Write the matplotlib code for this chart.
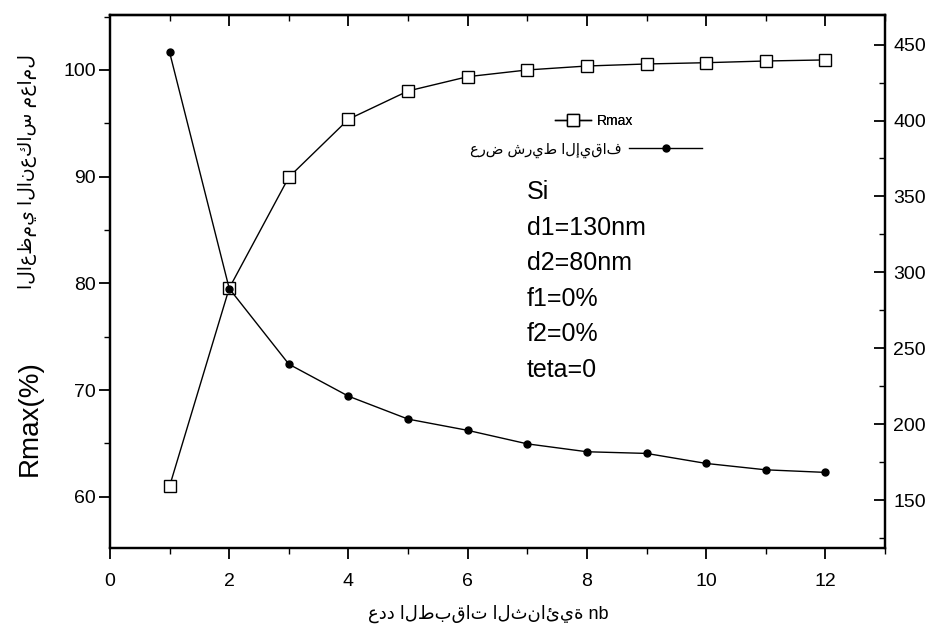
import matplotlib
matplotlib.use("Agg")
import matplotlib.pyplot as plt
from matplotlib.ticker import MultipleLocator

# Number of bilayers
nb = [1, 2, 3, 4, 5, 6, 7, 8, 9, 10, 11, 12]
# Maximum reflectance (%)
rmax = [61.0, 79.55, 89.95, 95.38, 98.03, 99.37, 100.0, 100.37, 100.56, 100.68, 100.84, 100.94]
# Stop-band width (nm)
band_width = [444.9, 289.3, 239.5, 218.4, 203.3, 195.9, 187.0, 181.8, 180.7, 174.1, 169.9, 168.2]

rmax_label = "Rmax"
band_label = "عرض شريط الإيقاف"
x_label = "عدد الطبقات الثنائية nb"
y_label_ar = "الاعظمي الانعكاس معامل"
y_label_en = "Rmax(%)"
params = ["Si", "d1=130nm", "d2=80nm", "f1=0%", "f2=0%", "teta=0"]

FAM = ["Liberation Sans", "DejaVu Sans"]
plt.rcParams["font.family"] = FAM

W, H = 936, 629
fig = plt.figure(figsize=(W / 100, H / 100), dpi=100)
L, R, T, B = 110, 885, 15, 548
ax = fig.add_axes([L / W, 1 - B / H, (R - L) / W, (B - T) / H])

ln1, = ax.plot(nb, rmax, color="black", lw=1.0, marker="s", ms=9,
               mfc="white", mec="black", mew=1.0, label=rmax_label)
ax.set_xlim(0, 13)
ax.set_ylim(55.2, 105.15)

ax2 = ax.twinx()
ln2, = ax2.plot(nb, band_width, color="black", lw=1.0, marker="o", ms=5,
                mfc="black", mec="black", label=band_label)
ax2.set_ylim(118.4, 469.5)

for a in (ax, ax2):
    for s in a.spines.values():
        s.set_linewidth(1.6)

# bottom / left axis ticks (outward)
ax.xaxis.set_major_locator(MultipleLocator(2))
ax.xaxis.set_minor_locator(MultipleLocator(1))
ax.yaxis.set_major_locator(MultipleLocator(10))
ax.yaxis.set_minor_locator(MultipleLocator(5))
ax.tick_params(axis="x", which="major", direction="out", length=8, width=1.3,
               labelsize=14, pad=10)
ax.tick_params(axis="x", which="minor", direction="out", length=4, width=1.0)
ax.tick_params(axis="y", which="major", direction="out", length=8, width=1.3,
               labelsize=14, pad=2)
ax.tick_params(axis="y", which="minor", direction="out", length=4, width=1.0)

# top axis ticks (inward, no labels)
top = ax.secondary_xaxis("top")
top.xaxis.set_major_locator(MultipleLocator(2))
top.xaxis.set_minor_locator(MultipleLocator(1))
top.tick_params(axis="x", which="major", direction="in", length=8, width=1.3,
                labeltop=False)
top.tick_params(axis="x", which="minor", direction="in", length=4, width=1.0)
top.spines["top"].set_linewidth(1.6)

# right axis ticks (inward)
ax2.yaxis.set_major_locator(MultipleLocator(50))
ax2.yaxis.set_minor_locator(MultipleLocator(25))
ax2.tick_params(axis="y", which="major", direction="in", length=8, width=1.3,
                labelsize=14, pad=6)
ax2.tick_params(axis="y", which="minor", direction="in", length=4, width=1.0)

# legends
leg1 = ax.legend(handles=[ln1], loc="center left",
                 bbox_to_anchor=((555 - L) / (R - L), 1 - (121 - T) / (B - T)),
                 frameon=False, fontsize=10, handlelength=2.6,
                 handletextpad=0.4, borderpad=0, borderaxespad=0)
ax.add_artist(leg1)
leg2 = ax2.legend(handles=[ln2], loc="center right",
                  bbox_to_anchor=((702 - L) / (R - L), 1 - (150 - T) / (B - T)),
                  frameon=False, fontsize=10.5, handlelength=5.0, markerfirst=False,
                  handletextpad=0.5, borderpad=0, borderaxespad=0)

# parameter block
for i, txt in enumerate(params):
    y = 192 + 35.6 * i
    ax.text((527 - L) / (R - L), 1 - (y - T) / (B - T), txt, transform=ax.transAxes,
            fontsize=18, va="center", ha="left")

# axis titles
fig.text(488 / W, 1 - 614 / H, x_label, ha="center", va="center", fontsize=13,
         family=FAM)
fig.text(30 / W, 1 - 418 / H, y_label_en, rotation=90, ha="center", va="center",
         fontsize=20)
fig.text(28 / W, 1 - 172 / H, y_label_ar, rotation=90, ha="center", va="center",
         fontsize=13.5, family=FAM)

fig.savefig("out.png", dpi=100)
